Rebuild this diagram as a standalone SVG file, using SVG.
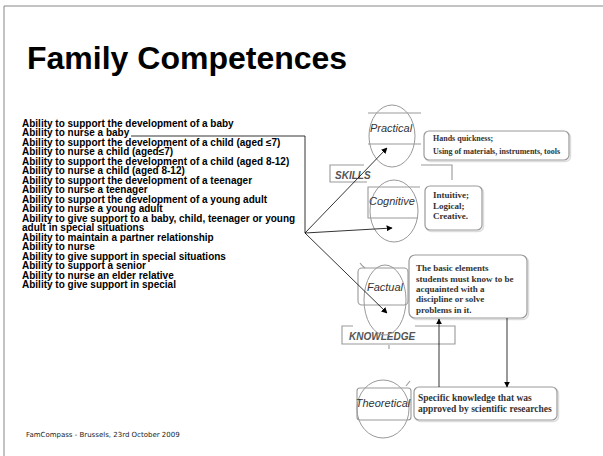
<svg xmlns="http://www.w3.org/2000/svg" width="603" height="456" viewBox="0 0 603 456">
<style>
.title{font-family:"Liberation Sans",Arial,sans-serif;font-weight:bold;font-size:32px;fill:#000}
.li{font-family:"Liberation Sans",Arial,sans-serif;font-weight:bold;font-size:10px;fill:#000}
.lbl{font-family:"Liberation Sans",Arial,sans-serif;font-style:italic;font-size:11px;fill:#333;text-anchor:middle}
.cat{font-family:"Liberation Sans",Arial,sans-serif;font-style:italic;font-weight:bold;font-size:10px;fill:#555}
.bt{font-family:"Liberation Serif","Times New Roman",serif;font-weight:bold;fill:#333}
.ell{fill:none;stroke:#999;stroke-width:1}
.frm{fill:none;stroke:#999;stroke-width:1.1}
.box{fill:#fff;stroke:#999;stroke-width:1.2}
.shd{fill:none;stroke:#ddd;stroke-width:1.5}
.con{fill:none;stroke:#000;stroke-width:0.8}
.foot{font-family:"DejaVu Sans",Verdana,sans-serif;font-size:7px;fill:#222}
</style>
<defs>
<marker id="ah" viewBox="0 0 10 10" refX="9" refY="5" markerWidth="6" markerHeight="6" orient="auto" markerUnits="userSpaceOnUse">
<path d="M0,0 L10,5 L0,10 z" fill="#000"/>
</marker>
</defs>
<rect width="603" height="456" fill="#fff"/>
<path d="M4,456 V6 H603" fill="none" stroke="#888" stroke-width="1"/>
<text class="title" x="27" y="69">Family Competences</text>
<g id="list">
<text class="li" x="22" y="126.5">Ability to support the development of a baby</text>
<text class="li" x="22" y="136">Ability to nurse a baby</text>
<text class="li" x="22" y="145.5">Ability to support the development of a child (aged ≤7)</text>
<text class="li" x="22" y="155">Ability to nurse a child (aged≤7)</text>
<text class="li" x="22" y="164.5">Ability to support the development of a child (aged 8-12)</text>
<text class="li" x="22" y="174">Ability to nurse a child (aged 8-12)</text>
<text class="li" x="22" y="183.5">Ability to support the development of a teenager</text>
<text class="li" x="22" y="193">Ability to nurse a teenager</text>
<text class="li" x="22" y="202.5">Ability to support the development of a young adult</text>
<text class="li" x="22" y="212">Ability to nurse a young adult</text>
<text class="li" x="22" y="221.5">Ability to give support to a baby, child, teenager or young</text>
<text class="li" x="22" y="231">adult in special situations</text>
<text class="li" x="22" y="240.5">Ability to maintain a partner relationship</text>
<text class="li" x="22" y="250">Ability to nurse</text>
<text class="li" x="22" y="259.5">Ability to give support in special situations</text>
<text class="li" x="22" y="269">Ability to support a senior</text>
<text class="li" x="22" y="278.5">Ability to nurse an elder relative</text>
<text class="li" x="22" y="288">Ability to give support in special</text>
</g>
<g id="skills">
<path class="frm" d="M364,165 H330 V182 H367 M421,165 H452 V180"/>
<text class="cat" x="335" y="179">SKILLS</text>
</g>
<g id="knowledge">
<path class="frm" d="M353,326 H342 V344 H455 V326 H415 M389,345 V349"/>
<text class="cat" x="349" y="340">KNOWLEDGE</text>
</g>
<g id="practical">
<ellipse class="ell" cx="392" cy="136" rx="23" ry="31"/>
<path class="frm" d="M368,113 H421 M368,144 H421"/>
<text class="lbl" x="391" y="132">Practical</text>
</g>
<g id="cognitive">
<ellipse class="ell" cx="394" cy="211" rx="24" ry="31"/>
<path class="frm" d="M420,187 H368 V218 H418"/>
<text class="lbl" x="392" y="205">Cognitive</text>
</g>
<g id="factual">
<rect class="frm" x="358" y="268" width="50" height="37" rx="4"/>
<ellipse class="ell" cx="385" cy="300" rx="21" ry="35"/>
<path class="frm" d="M360,263 Q362,266 365,268"/>
<text class="lbl" x="385" y="291">Factual</text>
</g>
<g id="theoretical">
<rect class="frm" x="357" y="388" width="54" height="32" rx="3"/>
<ellipse class="ell" cx="383" cy="409" rx="26" ry="29"/>
<path class="frm" d="M406,386 L410,381"/>
<text class="lbl" x="383" y="407">Theoretical</text>
</g>
<g id="hands">
<rect class="shd" x="425.5" y="132.5" width="145" height="29" rx="5"/>
<rect class="box" x="424" y="131" width="145" height="29" rx="5"/>
<text class="bt" x="433" y="141" font-size="8">Hands quickness;</text>
<text class="bt" x="433" y="154" font-size="8">Using of materials, instruments, tools</text>
</g>
<g id="intuitive">
<rect class="shd" x="426.5" y="187.5" width="57" height="44" rx="5"/>
<rect class="box" x="425" y="186" width="57" height="44" rx="5"/>
<text class="bt" x="433" y="198" font-size="9">Intuitive;</text>
<text class="bt" x="433" y="208.5" font-size="9">Logical;</text>
<text class="bt" x="433" y="219" font-size="9">Creative.</text>
</g>
<g id="basic">
<rect class="shd" x="410.5" y="256.5" width="118" height="63" rx="6"/>
<rect class="box" x="409" y="255" width="118" height="63" rx="6"/>
<text class="bt" x="416" y="271" font-size="9">The basic elements</text>
<text class="bt" x="416" y="281.5" font-size="9">students must know to be</text>
<text class="bt" x="416" y="292" font-size="9">acquainted with a</text>
<text class="bt" x="416" y="302" font-size="9">discipline or solve</text>
<text class="bt" x="416" y="312.5" font-size="9">problems in it.</text>
</g>
<g id="specific">
<rect class="shd" x="415.5" y="388.5" width="143" height="33" rx="5"/>
<rect class="box" x="414" y="387" width="143" height="33" rx="5"/>
<text class="bt" x="418" y="401" font-size="9.5">Specific knowledge that was</text>
<text class="bt" x="418" y="411.5" font-size="9.5">approved by scientific researches</text>
</g>
<g id="connectors">
<path class="con" d="M131,136 H305 V233"/>
<path class="con" d="M305,233 L387,148" marker-end="url(#ah)"/>
<path class="con" d="M305,233 L392,228" marker-end="url(#ah)"/>
<path class="con" d="M305,233 L387,313" marker-end="url(#ah)"/>
<path class="con" d="M439,387 V319" marker-end="url(#ah)"/>
<path class="con" d="M507,318 V387" marker-end="url(#ah)"/>
</g>
<text class="foot" x="26" y="437">FamCompass - Brussels, 23rd October 2009</text>
</svg>
